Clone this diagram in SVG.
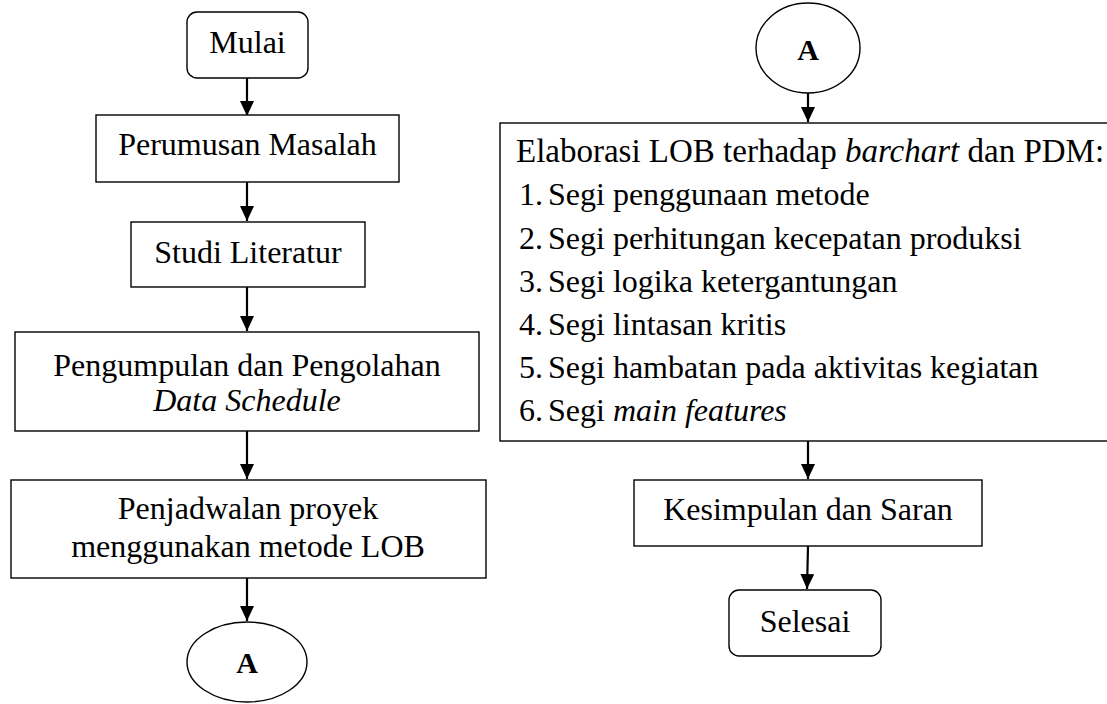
<svg xmlns="http://www.w3.org/2000/svg" width="1107" height="704" viewBox="0 0 1107 704">
<style>
.box{fill:#fff;stroke:#000;stroke-width:1.4}
.t{font-family:"Liberation Serif","Times New Roman",serif;font-size:32px;fill:#000}
.c{text-anchor:middle}
.b{font-weight:bold;font-size:30px}
.i{font-style:italic}
.arr{stroke:#000;stroke-width:2.2;fill:none;marker-end:url(#ah)}
</style>
<defs>
<marker id="ah" markerUnits="userSpaceOnUse" markerWidth="16" markerHeight="16" refX="15" refY="7" orient="auto">
<path d="M0,0 L15,7 L0,14 Z" fill="#000"/>
</marker>
</defs>
<rect width="1107" height="704" fill="#fff"/>
<g id="connectors">
<line class="arr" x1="247" y1="78" x2="247" y2="116"/>
<line class="arr" x1="247" y1="182" x2="247" y2="221"/>
<line class="arr" x1="247" y1="287" x2="247" y2="331"/>
<line class="arr" x1="247" y1="431" x2="247" y2="479"/>
<line class="arr" x1="247" y1="578" x2="247" y2="621"/>
<line class="arr" x1="808" y1="93" x2="808" y2="122"/>
<line class="arr" x1="808" y1="441" x2="808" y2="479"/>
<line class="arr" x1="808" y1="546" x2="807" y2="589"/>
</g>
<g id="mulai">
<rect class="box" x="187" y="12" width="121" height="66" rx="10"/>
<text class="t c" x="247.5" y="53">Mulai</text>
</g>
<g id="perumusan">
<rect class="box" x="96" y="115" width="303" height="67"/>
<text class="t c" x="247.5" y="155">Perumusan Masalah</text>
</g>
<g id="studi">
<rect class="box" x="131" y="222" width="234" height="65"/>
<text class="t c" x="248" y="263">Studi Literatur</text>
</g>
<g id="pengumpulan">
<rect class="box" x="15" y="332" width="464" height="99"/>
<text class="t c" x="247" y="376">Pengumpulan dan Pengolahan</text>
<text class="t c i" x="247" y="411">Data Schedule</text>
</g>
<g id="penjadwalan">
<rect class="box" x="11" y="480" width="475" height="98"/>
<text class="t c" x="248" y="519">Penjadwalan proyek</text>
<text class="t c" x="248" y="557">menggunakan metode LOB</text>
</g>
<g id="a-bottom">
<ellipse class="box" cx="247" cy="662" rx="60" ry="40"/>
<text class="t c b" x="247" y="673">A</text>
</g>
<g id="a-top">
<ellipse class="box" cx="808" cy="48" rx="52" ry="45"/>
<text class="t c b" x="808" y="60">A</text>
</g>
<g id="elaborasi">
<rect class="box" x="500" y="123" width="612" height="318"/>
<text class="t" x="516" y="162" style="font-size:33px">Elaborasi LOB terhadap <tspan class="i">barchart</tspan> dan PDM:</text>
<text class="t" x="519" y="205">1.</text><text class="t" x="548" y="205">Segi penggunaan metode</text>
<text class="t" x="519" y="249">2.</text><text class="t" x="548" y="249">Segi perhitungan kecepatan produksi</text>
<text class="t" x="519" y="292">3.</text><text class="t" x="548" y="292">Segi logika ketergantungan</text>
<text class="t" x="519" y="335">4.</text><text class="t" x="548" y="335">Segi lintasan kritis</text>
<text class="t" x="519" y="378">5.</text><text class="t" x="548" y="378">Segi hambatan pada aktivitas kegiatan</text>
<text class="t" x="519" y="421">6.</text><text class="t" x="548" y="421">Segi <tspan class="i">main features</tspan></text>
</g>
<g id="kesimpulan">
<rect class="box" x="634" y="480" width="348" height="66"/>
<text class="t c" x="808" y="520">Kesimpulan dan Saran</text>
</g>
<g id="selesai">
<rect class="box" x="729" y="590" width="152" height="66" rx="10"/>
<text class="t c" x="805" y="632">Selesai</text>
</g>
</svg>
